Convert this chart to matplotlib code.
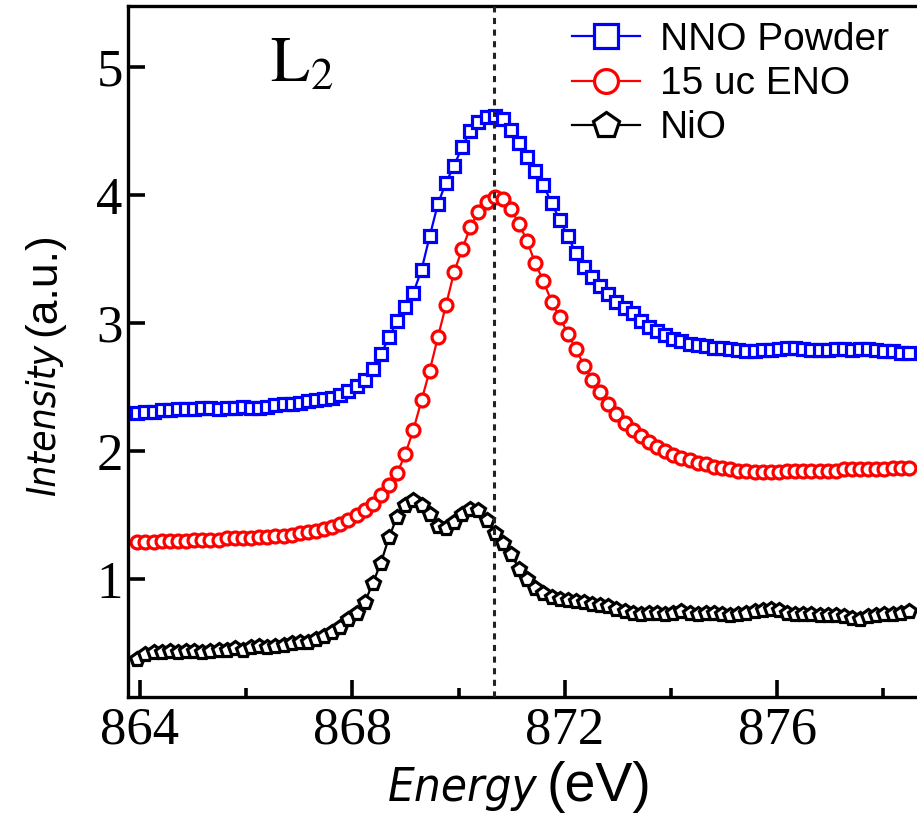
"""
Ni L2-edge XAS comparison: NNO powder, 15 uc ENO film and NiO reference.
Saves out.png (917x816 px).
"""
import matplotlib
matplotlib.use("Agg")
import matplotlib.pyplot as plt
import numpy as np

# energy grid (eV), evenly sampled
energy = np.linspace(863.95, 878.48, 96)

nno_powder = [2.30, 2.31, 2.31, 2.32, 2.32, 2.33, 2.33, 2.33, 2.34, 2.34,
              2.33, 2.34, 2.34, 2.35, 2.34, 2.34, 2.35, 2.36, 2.37, 2.37,
              2.38, 2.39, 2.40, 2.41, 2.42, 2.44, 2.47, 2.51, 2.56, 2.64,
              2.76, 2.89, 3.02, 3.13, 3.24, 3.42, 3.68, 3.93, 4.10, 4.23,
              4.38, 4.50, 4.57, 4.61, 4.62, 4.60, 4.51, 4.41, 4.30, 4.19,
              4.08, 3.94, 3.81, 3.68, 3.55, 3.44, 3.36, 3.29, 3.23, 3.17,
              3.12, 3.08, 3.02, 2.97, 2.94, 2.91, 2.88, 2.86, 2.84, 2.83,
              2.82, 2.81, 2.81, 2.80, 2.79, 2.78, 2.78, 2.79, 2.79, 2.80,
              2.81, 2.81, 2.80, 2.79, 2.79, 2.79, 2.80, 2.80, 2.79, 2.80,
              2.80, 2.79, 2.78, 2.78, 2.77, 2.77]

eno_15uc = [1.29, 1.29, 1.29, 1.30, 1.30, 1.30, 1.30, 1.31, 1.31, 1.31,
            1.31, 1.32, 1.32, 1.32, 1.32, 1.33, 1.33, 1.34, 1.34, 1.35,
            1.36, 1.37, 1.38, 1.39, 1.41, 1.43, 1.46, 1.50, 1.54, 1.59,
            1.66, 1.74, 1.83, 1.98, 2.17, 2.40, 2.63, 2.89, 3.14, 3.40,
            3.58, 3.75, 3.87, 3.95, 3.99, 3.97, 3.89, 3.78, 3.64, 3.47,
            3.33, 3.17, 3.05, 2.92, 2.80, 2.67, 2.56, 2.46, 2.37, 2.29,
            2.22, 2.17, 2.12, 2.07, 2.03, 2.00, 1.97, 1.95, 1.93, 1.91,
            1.90, 1.88, 1.87, 1.86, 1.85, 1.85, 1.84, 1.84, 1.84, 1.84,
            1.85, 1.85, 1.85, 1.85, 1.85, 1.85, 1.85, 1.86, 1.86, 1.86,
            1.86, 1.86, 1.86, 1.87, 1.87, 1.87]

nio = [0.38, 0.42, 0.43, 0.43, 0.44, 0.43, 0.44, 0.44, 0.43, 0.44,
       0.45, 0.45, 0.46, 0.45, 0.47, 0.48, 0.47, 0.48, 0.49, 0.50,
       0.51, 0.51, 0.53, 0.56, 0.59, 0.63, 0.69, 0.74, 0.82, 0.97,
       1.13, 1.33, 1.49, 1.58, 1.62, 1.58, 1.51, 1.42, 1.40, 1.45,
       1.51, 1.55, 1.54, 1.46, 1.36, 1.28, 1.20, 1.08, 1.00, 0.93,
       0.89, 0.86, 0.85, 0.84, 0.83, 0.82, 0.81, 0.80, 0.79, 0.77,
       0.75, 0.74, 0.73, 0.74, 0.74, 0.73, 0.74, 0.75, 0.74, 0.73,
       0.74, 0.74, 0.73, 0.72, 0.73, 0.74, 0.75, 0.76, 0.77, 0.76,
       0.74, 0.73, 0.73, 0.73, 0.72, 0.72, 0.72, 0.71, 0.70, 0.69,
       0.71, 0.72, 0.73, 0.73, 0.74, 0.75]

peak_energy = 870.67
labels = ["NNO Powder", "15 uc ENO", "NiO"]
x_ticks = [864, 868, 872, 876]
y_ticks = [1, 2, 3, 4, 5]

W, H = 917, 816


def fx(px):
    return px / W


def fy(py):
    return (H - py) / H


plt.rcParams["mathtext.fontset"] = "stix"

fig = plt.figure(figsize=(W / 100, H / 100), dpi=100)
# axes deliberately runs past the right edge, as in the original crop
ax = fig.add_axes([fx(128.3), fy(696.7), 0.8813, 0.8464])

series = [
    (nno_powder, "s", "#0000ff", 9.3),
    (eno_15uc, "o", "#ff0000", 9.3),
    (nio, "p", "black", 10.3),
]
for (vals, mk, col, ms), lab in zip(series, labels):
    ax.plot(energy, vals, color=col, lw=1.6, marker=mk, ms=ms, mew=2.3,
            mfc="white", mec=col, label=lab)

ax.axvline(peak_energy, color="#222222", lw=2.2, ls=(0, (2.0, 1.8)), zorder=5)

ax.set_xlim(863.78, 879.0)
ax.set_ylim(0.083, 5.479)
ax.set_xticks(x_ticks)
ax.set_xticks([866, 870, 874, 878], minor=True)
ax.set_yticks(y_ticks)

for sp in ["left", "bottom", "top"]:
    ax.spines[sp].set_linewidth(2.4)
ax.spines["right"].set_visible(False)

ax.tick_params(axis="both", which="major", direction="in", length=12.5,
               width=2.6, labelsize=38, pad=7)
ax.tick_params(axis="x", which="minor", direction="in", length=6.5, width=2.6)
ax.tick_params(axis="y", pad=4)
for lbl in ax.get_xticklabels() + ax.get_yticklabels():
    lbl.set_fontfamily("Liberation Serif")

leg = ax.legend(loc="upper left", bbox_to_anchor=(fx(572), fy(22)),
                bbox_transform=fig.transFigure, frameon=False,
                prop={"family": "Liberation Sans", "size": 28},
                handlelength=1.75, handletextpad=0.5, labelspacing=0.21,
                borderpad=0, borderaxespad=0, markerscale=1.85)

# L2 edge label
fig.text(fx(270), fy(82), r"$\mathrm{L}_2$", fontsize=46, va="baseline",
         ha="left")

# axis labels: italic condensed word + upright unit
fig.text(fx(537), fy(801), "Energy", family="DejaVu Sans",
         stretch="condensed", style="italic", fontsize=34, ha="right",
         va="baseline")
fig.text(fx(547), fy(801), "(eV)", family="Liberation Sans", fontsize=40,
         ha="left", va="baseline")
fig.text(fx(55), fy(344), "Intensity", family="DejaVu Sans",
         stretch="condensed", style="italic", fontsize=28, ha="right",
         va="baseline", rotation=90, rotation_mode="anchor")
fig.text(fx(55), fy(336), "(a.u.)", family="Liberation Sans", fontsize=32,
         ha="left", va="baseline", rotation=90, rotation_mode="anchor")

fig.savefig("out.png", dpi=100)
